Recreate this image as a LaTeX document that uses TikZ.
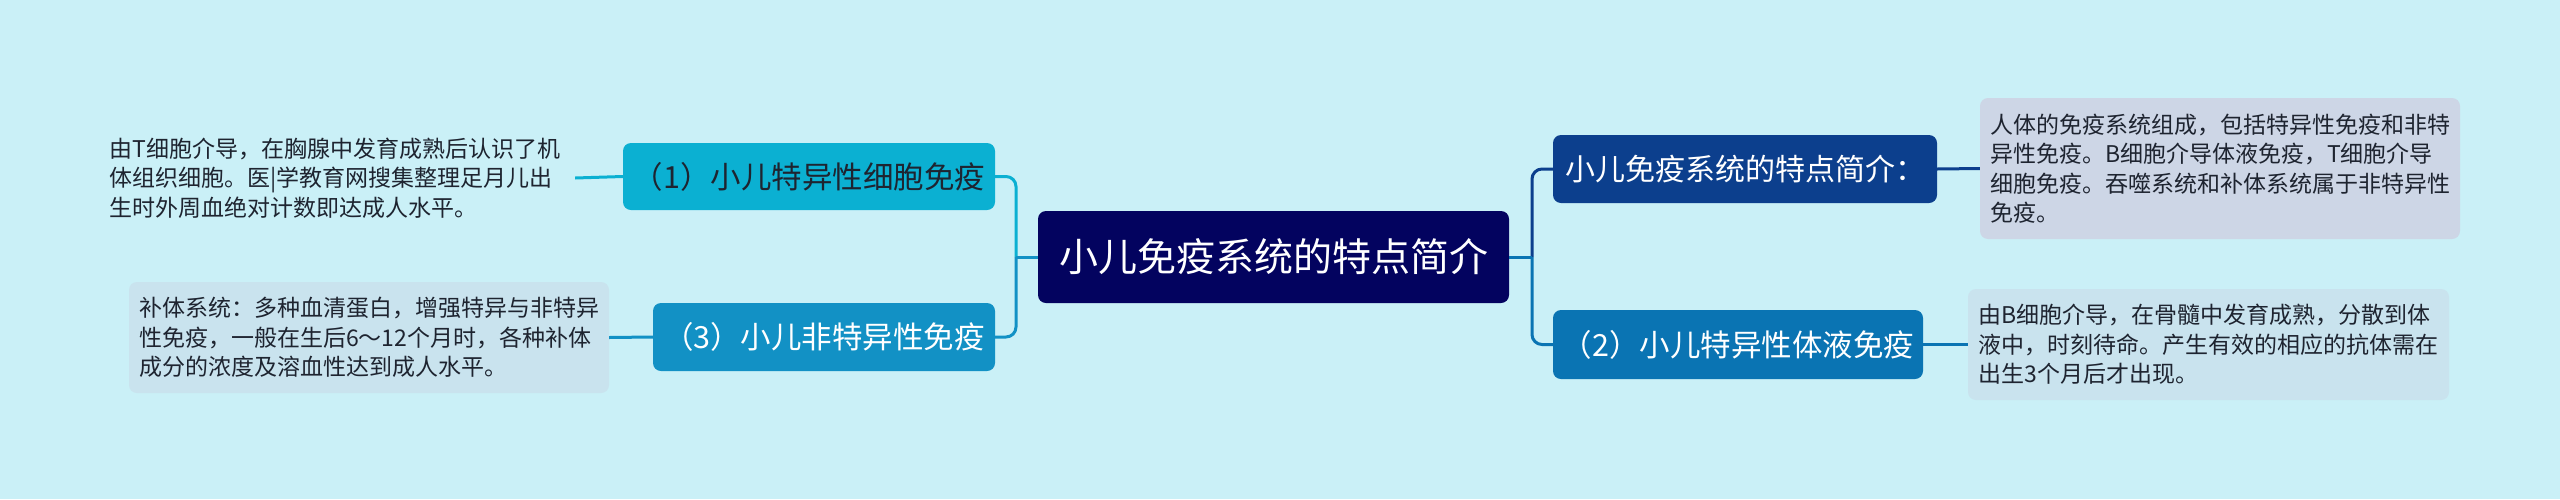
\documentclass[tikz,border=0pt]{standalone}
\usepackage{fontspec}
\setmainfont{Noto Sans CJK SC}
\definecolor{bg}{HTML}{CAF0F7}
\definecolor{rootc}{HTML}{03035F}
\definecolor{c1}{HTML}{0BB0D2}
\definecolor{c3}{HTML}{1291C5}
\definecolor{crt}{HTML}{0C3F8D}
\definecolor{c2}{HTML}{0A74B3}
\definecolor{boxa}{HTML}{CDD6E6}
\definecolor{boxb}{HTML}{C9E3EE}
\definecolor{txt}{HTML}{1E2430}
\tikzset{
  mainbox/.style={rounded corners=8pt, inner sep=0pt, align=center},
  descbox/.style={rounded corners=8pt, inner sep=0pt, align=left, text=txt,
    font=\fontsize{23}{29.5}\selectfont},
  link/.style={line width=3pt, rounded corners=10pt}
}
\begin{document}
\begin{tikzpicture}[x=1pt,y=-1pt]
\fill[bg] (0,0) rectangle (2560,499);
\useasboundingbox (0,0) rectangle (2560,499);

% main nodes
\node[mainbox, fill=rootc, text=white, minimum width=471pt, minimum height=92pt,
  font=\fontsize{39}{45}\selectfont] (root) at (1273.5,257) {小儿免疫系统的特点简介};
\node[mainbox, fill=c1, text=txt, minimum width=372pt, minimum height=67pt,
  font=\fontsize{30.5}{36}\selectfont] (n1) at (809,176.5) {（1）小儿特异性细胞免疫};
\node[mainbox, fill=c3, text=white, minimum width=342pt, minimum height=68pt,
  font=\fontsize{30.5}{36}\selectfont] (n3) at (824,337) {（3）小儿非特异性免疫};
\node[mainbox, fill=crt, text=white, minimum width=384pt, minimum height=68pt,
  font=\fontsize{30}{36}\selectfont] (rt) at (1745,169) {小儿免疫系统的特点简介：};
\node[mainbox, fill=c2, text=white, minimum width=370pt, minimum height=69pt,
  font=\fontsize{30.5}{36}\selectfont] (n2) at (1738,344.5) {（2）小儿特异性体液免疫};

% description boxes
\node[descbox, minimum width=480pt, minimum height=100pt] (t1) at (335,178)
  {由T细胞介导，在胸腺中发育成熟后认识了机\\体组织细胞。医|学教育网搜集整理足月儿出\\生时外周血绝对计数即达成人水平。};
\node[descbox, fill=boxb, minimum width=480pt, minimum height=111pt] (t3) at (369,337.5)
  {补体系统：多种血清蛋白，增强特异与非特异\\性免疫，一般在生后6～12个月时，各种补体\\成分的浓度及溶血性达到成人水平。};
\node[descbox, fill=boxa, minimum width=480pt, minimum height=141pt] (trt) at (2220,168.5)
  {人体的免疫系统组成，包括特异性免疫和非特\\异性免疫。B细胞介导体液免疫，T细胞介导\\细胞免疫。吞噬系统和补体系统属于非特异性\\免疫。};
\node[descbox, fill=boxb, minimum width=481pt, minimum height=111pt] (t2) at (2208.5,344.5)
  {由B细胞介导，在骨髓中发育成熟，分散到体\\液中，时刻待命。产生有效的相应的抗体需在\\出生3个月后才出现。};

% junctions
\coordinate (jl) at (1016,257);
\coordinate (jr) at (1532,257);

% connectors
\draw[link, draw=c1] (n1.east) -| (jl);
\draw[link, draw=c3] (n3.east) -| (jl);
\draw[link, draw=c3] (root.west) -- (jl);
\draw[link, draw=crt] (rt.west) -| (jr);
\draw[link, draw=c2] (n2.west) -| (jr);
\draw[link, draw=c2] (root.east) -- (jr);

\draw[link, draw=c1] (t1.east) -- (n1.west);
\draw[link, draw=c3] (t3.east) -- (n3.west);
\draw[link, draw=crt] (rt.east) -- (trt.west);
\draw[link, draw=c2] (n2.east) -- (t2.west);
\end{tikzpicture}
\end{document}
